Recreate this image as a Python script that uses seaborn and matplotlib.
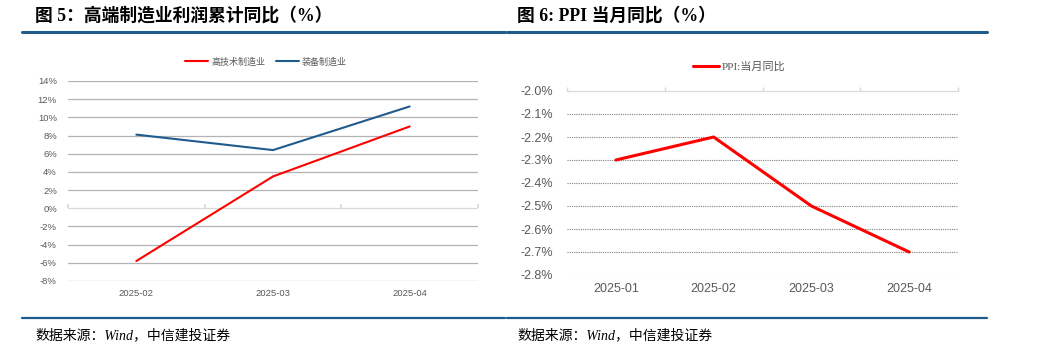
import matplotlib
matplotlib.use("Agg")
import matplotlib.pyplot as plt
import pandas as pd
import seaborn as sns
from matplotlib.lines import Line2D
from matplotlib.ticker import FixedLocator, FuncFormatter

# data
left_months = ['2025-02', '2025-03', '2025-04']
hightech = [-5.8, 3.5, 9.0]      # 高技术制造业
equipment = [8.1, 6.4, 11.2]     # 装备制造业
left_series = ['高技术制造业', '装备制造业']
left_yticks = [-8, -6, -4, -2, 0, 2, 4, 6, 8, 10, 12, 14]

right_months = ['2025-01', '2025-02', '2025-03', '2025-04']
ppi = [-2.3, -2.2, -2.5, -2.7]   # PPI:当月同比
right_series = 'PPI:当月同比'
right_yticks = [-2.8, -2.7, -2.6, -2.5, -2.4, -2.3, -2.2, -2.1, -2.0]

sns.set_theme(style='white')
plt.rcParams['font.family'] = ['Liberation Sans', 'Noto Sans CJK SC', 'DejaVu Sans']
plt.rcParams['axes.unicode_minus'] = False

TICK_GREY = '#595959'
RULE_BLUE = '#1f5c8b'
RED = '#ff0000'
BLUE = '#1f5b8c'

fig = plt.figure(figsize=(10.42, 3.58), dpi=100)
W, H = 1042, 358


def fx(px):
    return px / W


def fy(py):
    return 1 - py / H


# ---------- titles, rules, sources ----------
title_font = ['Liberation Serif', 'Noto Sans CJK SC']
fig.text(fx(35), fy(16), '图 5：高端制造业利润累计同比（%）', fontsize=12.8, fontweight='bold',
         family=title_font, va='center', ha='left', color='black')
fig.text(fx(517), fy(16), '图 6: PPI 当月同比（%）', fontsize=12.8, fontweight='bold',
         family=title_font, va='center', ha='left', color='black')

for x0, x1 in [(22, 505), (507, 987)]:
    fig.add_artist(Line2D([fx(x0), fx(x1)], [fy(32), fy(32)], color=RULE_BLUE, lw=2.2))
    fig.add_artist(Line2D([fx(x0), fx(x1)], [fy(318), fy(318)], color=RULE_BLUE, lw=1.6))

for x in [35, 517]:
    fig.text(fx(x), fy(335), '数据来源：Wind，中信建投证券', fontsize=10, style='italic',
             family=title_font, va='center', ha='left', color='black')

# ---------- left chart ----------
df_left = pd.DataFrame({
    '月份': left_months * 2,
    '值': hightech + equipment,
    '系列': [left_series[0]] * 3 + [left_series[1]] * 3,
})
ax1 = fig.add_axes([fx(68), fy(281), fx(478 - 68), (281 - 81) / H])
sns.lineplot(data=df_left, x='月份', y='值', hue='系列', palette=[RED, BLUE], ax=ax1,
             linewidth=1.5, legend=False, sort=False)
ax1.set_xlim(-0.5, len(left_months) - 0.5)
ax1.set_ylim(min(left_yticks), max(left_yticks))
ax1.set_yticks(left_yticks)
ax1.yaxis.set_major_formatter(FuncFormatter(lambda v, p: f'{v:.0f}%'))
ax1.set_xlabel('')
ax1.set_ylabel('')
for s in ax1.spines.values():
    s.set_visible(False)
ax1.grid(axis='y', color='#b3b3b3', linewidth=0.9)
ax1.set_axisbelow(True)
for val, gl in zip(left_yticks, ax1.get_ygridlines()):
    if val == 0:
        gl.set_color('#d9d9d9')
ax1.tick_params(axis='both', length=0, colors=TICK_GREY, labelsize=6.8)
ax1.tick_params(axis='y', pad=8)
ax1.tick_params(axis='x', pad=6)
# small tick marks under the 0% axis line at category boundaries
zero_pos = (0 - min(left_yticks)) / (max(left_yticks) - min(left_yticks))
sec = ax1.secondary_xaxis(zero_pos)
sec.set_xticks([i - 0.5 for i in range(len(left_months) + 1)])
sec.tick_params(axis='x', direction='in', length=3, color='#d9d9d9',
                labelbottom=False, labeltop=False)
for s in sec.spines.values():
    s.set_visible(False)

h1 = [Line2D([0], [0], color=RED, lw=1.5), Line2D([0], [0], color=BLUE, lw=1.5)]
leg1 = ax1.legend(h1, left_series, loc='center', bbox_to_anchor=(fx(266), fy(62)),
                  bbox_transform=fig.transFigure, ncol=2, frameon=False,
                  handlelength=2.6, handletextpad=0.3, columnspacing=1.2,
                  prop={'family': 'Noto Sans CJK SC', 'size': 6.5})
for t in leg1.get_texts():
    t.set_color(TICK_GREY)

# ---------- right chart ----------
df_right = pd.DataFrame({'月份': right_months, '值': ppi})
ax2 = fig.add_axes([fx(567), fy(275), fx(958 - 567), (275 - 91) / H])
sns.lineplot(data=df_right, x='月份', y='值', color=RED, linewidth=2.2, ax=ax2, sort=False)
ax2.set_xlim(-0.5, len(right_months) - 0.5)
ax2.set_ylim(min(right_yticks), max(right_yticks))
ax2.set_yticks(right_yticks)
ax2.yaxis.set_major_formatter(FuncFormatter(lambda v, p: f'{v:.1f}%'))
ax2.set_xlabel('')
ax2.set_ylabel('')
for name, s in ax2.spines.items():
    s.set_visible(name == 'top')
ax2.spines['top'].set_color('#d9d9d9')
ax2.spines['top'].set_linewidth(0.9)
for val in right_yticks[:-1]:
    ax2.axhline(val, color='#808080' if val != min(right_yticks) else '#b3b3b3',
                linewidth=0.8, linestyle=(0, (1, 1)), zorder=0)
ax2.tick_params(axis='both', which='major', length=0, colors=TICK_GREY, labelsize=9)
ax2.tick_params(axis='y', pad=10)
ax2.tick_params(axis='x', pad=6)
ax2.xaxis.set_minor_locator(FixedLocator([i - 0.5 for i in range(len(right_months) + 1)]))
ax2.tick_params(axis='x', which='minor', top=True, bottom=False, direction='out',
                length=3, color='#d9d9d9')

h2 = [Line2D([0], [0], color=RED, lw=2.2)]
leg2 = ax2.legend(h2, [right_series], loc='center', bbox_to_anchor=(fx(739), fy(67)),
                  bbox_transform=fig.transFigure, frameon=False,
                  handlelength=2.4, handletextpad=0.2,
                  prop={'family': ['Liberation Serif', 'Noto Sans CJK SC'], 'size': 8})
for t in leg2.get_texts():
    t.set_color(TICK_GREY)

fig.savefig('out.png', dpi=100, facecolor='white')
